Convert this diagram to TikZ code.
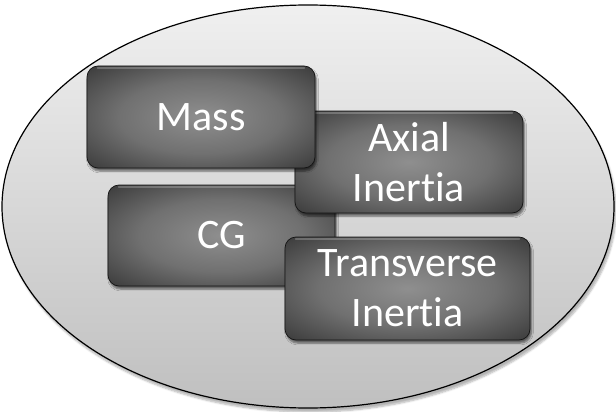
\documentclass[tikz,border=0pt]{standalone}
\usepackage{fontspec}
\setmainfont{Carlito}[Ligatures=NoCommon]
\usetikzlibrary{shadows.blur}

% soft glow for the dark panels: light centre, dark rim
\pgfdeclareradialshading{boxglow}{\pgfpoint{0bp}{0bp}}{%
  color(0bp)=(black!44); color(18bp)=(black!56); color(33bp)=(black!74);
  color(43bp)=(black!86); color(50bp)=(black!91); color(72bp)=(black!92)}

\tikzset{
  frame/.style={draw=black, line width=1.2pt, top color=black!6, bottom color=black!25,
    blur shadow={shadow xshift=2pt, shadow yshift=-4pt, shadow opacity=30, shadow blur steps=6}},
  panel/.style={rectangle, rounded corners=11pt, draw=black!92, line width=0.7pt,
    shade, shading=boxglow, text=white, align=center, inner sep=0pt,
    font=\fontsize{42}{50}\selectfont,
    blur shadow={shadow xshift=1.5pt, shadow yshift=-3pt, shadow opacity=55, shadow blur steps=5}},
  gleam/.style={white, opacity=0.22, line width=1.6pt, line cap=round},
}

\newcommand\topgleam[1]{%
  \draw[gleam] ([xshift=11pt,yshift=-2.2pt]#1.north west) -- ([xshift=-11pt,yshift=-2.2pt]#1.north east);}

\begin{document}
\begin{tikzpicture}[x=1pt, y=-1pt]
  \useasboundingbox (0,0) rectangle (616,412);

  % outer group
  \path[frame] (308,206.5) ellipse [x radius=306, y radius=201.5];

  % the four properties, back to front
  \node[panel, minimum width=227pt, minimum height=101pt] (cg) at (221.5,235.5) {CG};
  \topgleam{cg}
  \node[panel, minimum width=228pt, minimum height=102pt] (axial) at (409,162) {Axial\\Inertia};
  \topgleam{axial}
  \node[panel, minimum width=228pt, minimum height=102pt] (mass) at (201,117) {Mass};
  \topgleam{mass}
  \node[panel, minimum width=245pt, minimum height=103pt] (trans) at (407.5,288.5) {Transverse\\Inertia};
  \topgleam{trans}
\end{tikzpicture}
\end{document}
